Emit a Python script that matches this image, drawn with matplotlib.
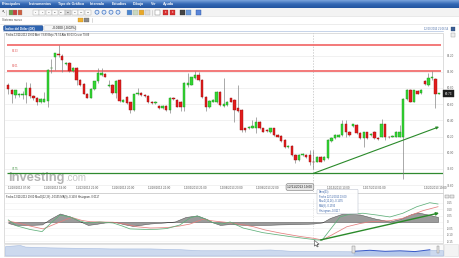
import matplotlib
matplotlib.use("Agg")
import matplotlib.pyplot as plt
import numpy as np
from matplotlib.patches import Rectangle, FancyBboxPatch, Polygon, Circle
from matplotlib.transforms import blended_transform_factory
from matplotlib.colors import LinearSegmentedColormap

plt.rcParams['font.family'] = ['Liberation Sans', 'DejaVu Sans']

W, H = 460, 258

# ---------------- data ----------------
opens = [80.84, 80.78, 80.71, 80.71, 80.71, 80.71, 80.80, 80.70, 80.68, 80.62,
         80.63, 80.64, 81.04, 81.18, 81.22, 81.20, 81.09, 81.11, 81.01, 81.05,
         80.90, 80.85, 80.73, 80.68, 80.79, 80.88, 80.96, 80.97, 80.82, 80.84,
         80.74, 80.90, 80.63, 80.69, 80.62, 80.53, 80.72, 80.74, 80.71, 80.70,
         80.63, 80.61, 80.58, 80.55, 80.58, 80.53, 80.68, 80.65, 80.63, 80.57,
         80.84, 80.84, 80.92, 80.96, 80.90, 80.69, 80.56, 80.63, 80.62, 80.75,
         80.58, 80.59, 80.67, 80.65, 80.55, 80.53, 80.30, 80.30, 80.31, 80.30,
         80.38, 80.30, 80.28, 80.25, 80.30, 80.22, 80.21, 80.16, 80.07, 80.08,
         79.97, 79.91, 79.97, 79.97, 79.97, 79.89, 79.89, 79.95, 79.91, 79.93,
         80.14, 80.18, 80.20, 80.22, 80.36, 80.26, 80.33, 80.34, 80.24, 80.18,
         80.25, 80.22, 80.26, 80.18, 80.20, 80.35, 80.20, 80.20, 80.20, 80.20,
         80.20, 80.66, 80.78, 80.63, 80.76, 80.74, 80.89, 80.83, 80.92, 80.91,
         80.73]
closes = [80.79, 80.72, 80.77, 80.73, 80.73, 80.80, 80.70, 80.67, 80.62, 80.66,
          80.66, 81.02, 81.05, 81.23, 81.21, 81.15, 81.11, 81.01, 81.05, 80.90,
          80.84, 80.73, 80.68, 80.79, 80.88, 80.98, 80.98, 80.94, 80.84, 80.74,
          80.89, 80.64, 80.65, 80.61, 80.53, 80.72, 80.74, 80.71, 80.70, 80.62,
          80.61, 80.63, 80.55, 80.58, 80.53, 80.68, 80.66, 80.57, 80.57, 80.86,
          80.86, 80.93, 80.96, 80.90, 80.69, 80.56, 80.64, 80.65, 80.75, 80.59,
          80.60, 80.63, 80.63, 80.53, 80.52, 80.28, 80.28, 80.32, 80.33, 80.38,
          80.30, 80.26, 80.27, 80.30, 80.22, 80.20, 80.14, 80.07, 80.08, 79.97,
          79.91, 79.97, 79.99, 79.95, 79.89, 79.88, 79.95, 79.89, 79.95, 80.16,
          80.18, 80.22, 80.22, 80.36, 80.26, 80.22, 80.35, 80.24, 80.18, 80.25,
          80.18, 80.23, 80.18, 80.17, 80.35, 80.20, 80.19, 80.21, 80.26, 80.26,
          80.66, 80.78, 80.63, 80.77, 80.73, 80.78, 80.85, 80.92, 80.93, 80.73,
          80.73]
highs = [80.86, 80.79, 80.78, 80.74, 80.76, 80.87, 80.86, 80.71, 80.69, 80.68,
         80.75, 81.03, 81.16, 81.23, 81.33, 81.22, 81.12, 81.12, 81.06, 81.06,
         80.91, 80.86, 80.74, 80.80, 80.89, 81.04, 81.05, 80.98, 80.90, 80.85,
         80.90, 80.91, 80.66, 80.70, 80.63, 80.73, 80.80, 80.75, 80.72, 80.71,
         80.64, 80.64, 80.59, 80.59, 80.59, 80.69, 80.69, 80.66, 80.64, 80.87,
         80.98, 80.94, 81.01, 81.00, 80.91, 80.70, 80.65, 80.66, 80.76, 80.76,
         80.92, 80.64, 80.68, 80.66, 80.83, 80.54, 80.31, 80.33, 80.40, 80.44,
         80.39, 80.31, 80.29, 80.31, 80.31, 80.23, 80.22, 80.17, 80.09, 80.09,
         79.98, 79.98, 80.00, 79.98, 80.03, 80.03, 79.96, 79.96, 79.96, 80.17,
         80.19, 80.23, 80.23, 80.40, 80.40, 80.27, 80.36, 80.35, 80.25, 80.26,
         80.26, 80.24, 80.27, 80.19, 80.42, 80.36, 80.21, 80.22, 80.27, 80.34,
         80.67, 80.79, 80.79, 80.78, 80.77, 80.79, 80.90, 80.98, 81.01, 80.92,
         80.74]
lows = [80.73, 80.61, 80.67, 80.69, 80.66, 80.61, 80.67, 80.65, 80.59, 80.61,
        80.62, 80.57, 80.98, 81.02, 81.18, 81.00, 81.08, 81.00, 81.00, 80.83,
        80.82, 80.72, 80.67, 80.67, 80.78, 80.86, 80.95, 80.93, 80.81, 80.73,
        80.67, 80.63, 80.62, 80.60, 80.49, 80.52, 80.71, 80.70, 80.69, 80.61,
        80.60, 80.60, 80.54, 80.54, 80.52, 80.49, 80.65, 80.56, 80.51, 80.51,
        80.81, 80.83, 80.91, 80.89, 80.68, 80.51, 80.55, 80.62, 80.61, 80.58,
        80.57, 80.58, 80.62, 80.38, 80.50, 80.26, 80.26, 80.29, 80.30, 80.24,
        80.29, 80.25, 80.26, 80.24, 80.21, 80.19, 80.13, 80.06, 80.06, 79.96,
        79.87, 79.90, 79.96, 79.94, 79.85, 79.80, 79.88, 79.88, 79.90, 79.92,
        80.13, 80.17, 80.19, 80.21, 80.20, 80.21, 80.32, 80.23, 80.17, 80.07,
        80.17, 80.21, 80.17, 80.16, 80.19, 80.16, 80.18, 80.19, 80.19, 80.19,
        79.68, 80.65, 80.62, 80.62, 80.72, 80.73, 80.84, 80.82, 80.90, 80.55,
        80.72]

resistance_levels = [81.33, 81.01]
resistance_labels = ["81.33", "81.01"]
support_levels = [79.75]
support_labels = ["79.75"]
trend_start = (85, 79.745)
trend_end = (120, 80.32)
price_ticks = [79.60, 79.80, 80.00, 80.20, 80.40, 80.60, 80.80, 81.00, 81.20]
last_price = 80.73

date_tick_idx = [3, 13, 22, 32, 42, 52, 62, 72, 92, 102, 119]
date_tick_labels = ["11/18/2013 07:00", "11/20/2013 19:00", "11/22/2013 21:00",
                    "11/26/2013 20:00", "11/28/2013 22:00", "12/02/2013 21:00",
                    "12/04/2013 23:00", "12/09/2013 22:00", "12/13/2013 13:00",
                    "12/17/2013 01:00", "12/20/2013 19:00"]
cursor_idx = 85
cursor_label = "12/11/2013 19:00"

macd_idx = [0, 2.4, 6.0, 9.4, 11.6, 14.4, 17.2, 20.0, 21.9, 25.5, 29.2, 31.7, 33.9,
            38.1, 41.4, 44.2, 47.8, 50.6, 52.6, 54.8, 57.0, 59.5, 61.8, 65.4, 70.9,
            78.5, 82.6, 86.0, 87.4, 89.6, 92.4, 95.2, 98.8, 102.7, 106.3, 109.9,
            113.8, 117.4, 119.7]
macd_vals = [0.016, -0.031, -0.058, -0.075, -0.016, 0.054, 0.039, 0.008, -0.008,
             0.000, -0.008, -0.031, -0.054, -0.058, -0.057, -0.051, -0.023, 0.031,
             0.047, 0.023, -0.005, -0.016, 0.000, -0.047, -0.083, -0.114, -0.128,
             -0.140, -0.142, -0.062, 0.039, 0.062, 0.068, 0.054, 0.039, 0.068,
             0.119, 0.150, 0.140]
signal_idx = [0, 3.3, 6.6, 9.7, 13.0, 15.8, 17.7, 20.5, 22.8, 25.5, 29.2, 32.5,
              35.8, 39.5, 44.2, 47.8, 50.6, 54.2, 57.0, 60.4, 65.7, 68.3, 71.5,
              75.7, 81.3, 85.0, 87.4, 89.6, 94.3, 98.0, 100.8, 106.3, 109.9,
              115.5, 119.7]
signal_vals = [0.008, -0.012, -0.035, -0.054, -0.016, 0.016, 0.035, 0.012, 0.002,
               0.000, -0.002, -0.016, -0.037, -0.047, -0.044, -0.031, -0.016,
               0.021, 0.008, -0.002, -0.023, -0.037, -0.062, -0.086, -0.113,
               -0.127, -0.140, -0.109, -0.037, -0.012, 0.002, 0.010, 0.029, 0.088,
               0.119]
hist_idx = [0, 1.9, 6.0, 9.4, 11.6, 14.4, 17.2, 20.5, 22.2, 24.2, 26.9, 29.7, 32.5,
            34.7, 36.7, 39.5, 43.6, 46.4, 49.4, 52.6, 55.3, 57.0, 59.0, 61.8, 66.1,
            71.5, 75.7, 81.3, 85.0, 87.4, 89.6, 93.2, 98.0, 102.1, 106.3, 109.1,
            112.3, 114.1, 116.9, 119.7]
hist_vals = [-0.008, -0.023, -0.023, -0.019, 0.023, 0.066, 0.043, -0.002, -0.023,
             -0.016, -0.004, 0.000, -0.019, -0.031, -0.023, -0.012, -0.004, 0.004,
             0.039, 0.051, 0.023, -0.004, -0.023, -0.016, -0.023, -0.023, -0.019,
             -0.016, -0.012, -0.004, 0.031, 0.066, 0.058, 0.027, 0.004, 0.023,
             0.062, 0.074, 0.058, 0.039]
macd_ticks = [0.15, 0.10, 0.05, 0.0, -0.05, -0.10, -0.15]
macd_tick_labels = ["0.15", "0.10", "0.05", "0", "-0.05", "-0.10", "-0.15"]
macd_trend_start = (87, -0.140)
macd_trend_end = (120, 0.070)

nav_x = [0, 3.4, 4.6, 10.3, 17.8, 24.0, 33.1, 40.0, 44.5, 51.4, 60.5, 65.1, 70.3,
         79.5, 83.3, 86.8, 90.2, 93.6, 97.0, 100]
nav_vals = [82.1, 82.5, 81.9, 81.6, 81.4, 81.2, 81.2, 80.9, 80.5, 80.5, 80.8, 80.3,
            80.2, 80.1, 80.5, 80.1, 80.3, 80.0, 80.7, 80.5]
nav_window = (79.5, 98.9)

menu_items = ["Principales", "Instrumentos", "Tipo de Gráfico", "Intervalo",
              "Estudios", "Dibujo", "Ver", "Ayuda"]
interval_buttons = ["1", "5", "15", "30", "1H", "5H", "D", "W", "M"]

title_tab = "Índice del Dólar (DX)"
change_text = "-0.0200 (-0.02%)"
info_line = "Fecha 12/11/2013 19:00 Abrir 79.89 Bajo 79.74 Alto 80.03 Cerrar 79.89"
macd_info = "Fecha 12/11/2013 19:00 MacD(12,26) -0.1555 MA(9) -0.1593 Histogram -0.0117"
tooltip_lines = ["Barra(33)", "Fecha 12/11/2013 19:00", "MacD(12,26) -0.1555",
                 "MA(9) -0.1593", "Histogram -0.0117"]
timestamp = "12/20/2013 21:06:54"

# ---------------- figure ----------------
fig = plt.figure(figsize=(W / 100, H / 100), dpi=100)
fig.patch.set_facecolor('white')


def rect(x0, y0, x1, y1):
    return [x0 / W, 1 - y1 / H, (x1 - x0) / W, (y1 - y0) / H]


bg = fig.add_axes([0, 0, 1, 1], zorder=0)
bg.axis('off')

# menu bar
grad = np.linspace(0, 1, 30).reshape(-1, 1)
cm = LinearSegmentedColormap.from_list('m', ['#7aa3dc', '#3368b4', '#2355a0'])
bg.imshow(grad, extent=(0, W, 8, 0), cmap=cm, aspect='auto', zorder=1)
menu_x = [2, 29, 58, 90, 112, 133, 151, 163]
for mx_, item in zip(menu_x, menu_items):
    bg.text(mx_, 4.2, item, fontsize=2.6, color='white', fontweight='bold',
            va='center', ha='left', zorder=2)

# toolbar
bg.add_patch(Rectangle((0, 8), W, 8.3, fc='#f3f3f3', ec='none', zorder=1))
bg.plot([0, W], [16.3, 16.3], color='#d8d8d8', lw=0.4, zorder=2)
bg.text(3, 12.3, "↖", fontsize=3, va='center', ha='center', color='#222',
        family=['DejaVu Sans'], zorder=3)
bg.plot([6.5, 6.5], [10, 14.8], color='#bbb', lw=0.4, zorder=3)
for x0, col in [(9, '#6aa04a'), (13.5, '#c84040'), (18, '#d06040')]:
    bg.add_patch(Rectangle((x0, 10), 3.6, 4.6, fc=col, ec='#888', lw=0.2, zorder=3))
for i, lab in enumerate(interval_buttons):
    x0 = 33 + 6.5 * i
    fc = '#d8d8d8' if lab == "5H" else '#fbfbfb'
    bg.add_patch(Rectangle((x0, 9.8), 5.6, 5.0, fc=fc, ec='#a8a8a8', lw=0.3, zorder=3))
    bg.text(x0 + 2.8, 12.4, lab, fontsize=1.7, ha='center', va='center',
            color='#333', zorder=4)
for i in range(4):
    cx = 97 + 7 * i
    bg.add_patch(Circle((cx, 12.2), 2.0, fc='#dfe9f8', ec='#3f74c4', lw=0.5, zorder=3))
for x0, col in [(127, '#4a86d0'), (133, '#c8d8c0'), (139, '#e8a828'), (145, '#dddddd')]:
    bg.add_patch(Rectangle((x0, 10), 4.6, 4.6, fc=col, ec='#999', lw=0.2, zorder=3))
bg.plot([152.5, 152.5], [10, 14.8], color='#bbb', lw=0.4, zorder=3)
bg.add_patch(Rectangle((155, 10), 4.6, 4.6, fc='white', ec='#777', lw=0.3, zorder=3))
for x0 in [163, 170]:
    bg.add_patch(Rectangle((x0, 10), 4.6, 4.6, fc='#d83030', ec='#992020', lw=0.2, zorder=3))
    bg.text(x0 + 2.3, 12.3, "x", fontsize=2, color='white', ha='center', va='center', zorder=4)
bg.add_patch(Rectangle((180, 10), 4.6, 4.6, fc='#444', ec='#222', lw=0.2, zorder=3))
bg.add_patch(Rectangle((186, 10), 4.6, 4.6, fc='#6d9ad8', ec='#3a66a8', lw=0.2, zorder=3))
bg.add_patch(Rectangle((196, 10), 4.6, 4.6, fc='#5b86d8', ec='#2c55a0', lw=0.3, zorder=3))

# system row
bg.plot([0, W], [23.6, 23.6], color='#dddddd', lw=0.4, zorder=2)
bg.text(2, 20, "Sistema nuevo", fontsize=2.2, color='#555', va='center', zorder=3)
bg.add_patch(Rectangle((78.5, 17.5), 4.8, 4.8, fc='#f0b030', ec='#b07a10', lw=0.2, zorder=3))
bg.add_patch(Rectangle((84.5, 17.5), 4.8, 4.8, fc='#8a8a8a', ec='#555', lw=0.2, zorder=3))
bg.plot([92, 92], [17.5, 22.3], color='#bbb', lw=0.4, zorder=3)

# tabs
bg.add_patch(FancyBboxPatch((3.5, 25.6), 39.5, 5.2, boxstyle='round,pad=0,rounding_size=1.2',
                            fc='#2d63b0', ec='#1f4a8a', lw=0.3, zorder=3))
bg.text(5.5, 28.3, title_tab, fontsize=2.2, color='white', fontweight='bold',
        va='center', zorder=4)
bg.add_patch(FancyBboxPatch((44, 25.6), 32, 5.2, boxstyle='round,pad=0,rounding_size=1.2',
                            fc='#f6f6f6', ec='#c8c8c8', lw=0.3, zorder=3))
bg.text(52, 28.3, change_text, fontsize=2.3, color='#111', va='center', zorder=4)
bg.plot([3, 443], [31, 31], color='#9bb3d8', lw=0.4, zorder=2)
bg.text(448, 29.2, timestamp, fontsize=1.9, color='#4b6ea8', ha='right', va='center', zorder=3)
bg.add_patch(Rectangle((451.5, 27.2), 3.8, 3.8, fc='#3c5f95', ec='#23406e', lw=0.2, zorder=3))

# main panel frame
bg.add_patch(Rectangle((4.5, 32.5), 438.5, 160, fc='none', ec='#cfcfcf', lw=0.5, zorder=2))
bg.add_patch(Rectangle((451.5, 33.4), 3.6, 3.2, fc='#eeeeee', ec='#999', lw=0.3, zorder=3))
bg.text(6, 34.9, info_line, fontsize=1.9, color='#333', va='center', zorder=3)

# watermark
bg.text(8, 181.3, "Investing", fontsize=9.3, fontweight='bold', color='#b4b4b4',
        va='baseline', ha='left', zorder=2)
bg.text(65.5, 181.3, ".com", fontsize=7.0, color='#c6c6c6', va='baseline', ha='left', zorder=2)

# MACD panel frame
bg.add_patch(Rectangle((4.5, 193.2), 438.5, 49.3, fc='none', ec='#cfcfcf', lw=0.5, zorder=2))
bg.text(6, 197, macd_info, fontsize=1.9, color='#333', va='center', zorder=3)
for x0 in [445.5, 450.5]:
    bg.add_patch(Rectangle((x0, 194.5), 3.4, 3.2, fc='#e6e6e6', ec='#888', lw=0.3, zorder=3))

# navigator frame
bg.add_patch(Rectangle((4.5, 243.5), 438.5, 12.2, fc='#fafafa', ec='#d0d0d0', lw=0.4, zorder=1))
bg.add_patch(Rectangle((444.5, 244), 13.5, 11.5, fc='#f3f3f3', ec='#dddddd', lw=0.4, zorder=1))

bg.set_xlim(0, W)
bg.set_ylim(H, 0)

# ---------------- main candlestick axes ----------------
ax = fig.add_axes(rect(5, 33, 443, 192), zorder=2)
ax.patch.set_alpha(0)
o = np.array(opens)
c = np.array(closes)
hi = np.array(highs)
lo = np.array(lows)
idx = np.arange(len(o))
up = c >= o
ax.vlines(idx, lo, hi, color='#7a7a7a', lw=0.45, zorder=3)
bottoms = np.minimum(o, c)
heights = np.maximum(np.abs(c - o), 0.008)
ax.bar(idx[up], heights[up], bottom=bottoms[up], width=0.66, color='#33d633',
       edgecolor='#1c941c', linewidth=0.3, zorder=4)
ax.bar(idx[~up], heights[~up], bottom=bottoms[~up], width=0.66, color='#e21c1c',
       edgecolor='#9a1010', linewidth=0.3, zorder=4)

for lvl, lab, off in zip(resistance_levels, resistance_labels, [-3.0, 2.0]):
    ax.hlines(lvl, -0.4, 120.5, color='#f37474', lw=1.35, zorder=2)
    ax.annotate(lab, (1.0, lvl), xytext=(0, off), textcoords='offset points',
                fontsize=1.9, color='#e05050', va='top' if off < 0 else 'bottom',
                ha='left')
for lvl, lab in zip(support_levels, support_labels):
    ax.hlines(lvl, -0.4, 121.1, color='#2f8a2f', lw=0.9, zorder=2)
    ax.annotate(lab, (1.0, lvl), xytext=(0, 1.6), textcoords='offset points',
                fontsize=1.9, color='#2f8a2f', va='bottom', ha='left')

ax.annotate('', xy=trend_end, xytext=trend_start,
            arrowprops=dict(arrowstyle='-|>', color='#2a8a2a', lw=0.8,
                            mutation_scale=3.5, shrinkA=0, shrinkB=0), zorder=5)
ax.axvline(cursor_idx, color='#bdbdbd', lw=0.5, ls=(0, (2, 2)), zorder=1)

ax.set_xlim(-0.92, 121.09)
ax.set_ylim(79.515, 81.478)
ax.yaxis.tick_right()
ax.set_yticks(price_ticks)
ax.set_yticklabels([f"{t:.2f}" for t in price_ticks])
ax.tick_params(axis='y', length=0, pad=2.5, labelsize=2.1, labelcolor='#666')
ax.grid(axis='y', color='#ececec', lw=0.5)
ax.set_axisbelow(True)
ax.set_xticks(date_tick_idx)
ax.set_xticklabels(date_tick_labels)
ax.tick_params(axis='x', length=0, pad=-4.4, labelsize=2.1, labelcolor='#555')
for s in ax.spines.values():
    s.set_visible(False)

tr = blended_transform_factory(ax.transData, ax.transAxes)
ax.text(cursor_idx - 0.3, 0.031, cursor_label, transform=tr, ha='right', va='center',
        fontsize=2.3, color='#222', zorder=6,
        bbox=dict(boxstyle='round,pad=0.45,rounding_size=0.6', fc='#e6e6e6', ec='#777', lw=0.4))
trp = blended_transform_factory(ax.transAxes, ax.transData)
ax.text(1.004, last_price, f"{last_price:.2f}", transform=trp, ha='left', va='center',
        fontsize=2.2, color='white', zorder=6,
        bbox=dict(boxstyle='square,pad=0.45', fc='#1e1e1e', ec='#1e1e1e', lw=0.3))

# ---------------- MACD axes ----------------
mx = fig.add_axes(rect(5, 199, 443, 242), zorder=2)
mx.patch.set_alpha(0)
mx.fill_between(hist_idx, 0, hist_vals, color='#9b9b9b', edgecolor='#4d4d4d', lw=0.35, zorder=2)
mx.plot(signal_idx, signal_vals, color='#e47e7e', lw=0.55, zorder=3)
mx.plot(macd_idx, macd_vals, color='#5fb07a', lw=0.55, zorder=3)
mx.annotate('', xy=macd_trend_end, xytext=macd_trend_start,
            arrowprops=dict(arrowstyle='-|>', color='#2a8a2a', lw=1.0,
                            mutation_scale=4, shrinkA=0, shrinkB=0), zorder=5)
mx.axvline(cursor_idx, color='#cfcfcf', lw=0.4, ls=(0, (2, 2)), zorder=1)
mx.set_xlim(-0.92, 121.09)
mx.set_ylim(-0.156, 0.179)
mx.yaxis.tick_right()
mx.set_yticks(macd_ticks)
mx.set_yticklabels(macd_tick_labels)
mx.tick_params(axis='y', length=0, pad=2.5, labelsize=2.0, labelcolor='#666')
mx.set_xticks([])
mx.grid(axis='y', color='#f0f0f0', lw=0.4)
mx.set_axisbelow(True)
for s in mx.spines.values():
    s.set_visible(False)

# ---------------- navigator ----------------
nv = fig.add_axes(rect(5, 244, 443, 255.5), zorder=2)
nv.patch.set_alpha(0)
nv.fill_between(nav_x, 78.5, nav_vals, color='#ccd9ee', edgecolor='#a6bbe0', lw=0.4)
sel = [(x, v) for x, v in zip(nav_x, nav_vals) if nav_window[0] <= x <= nav_window[1]]
nv.fill_between([p[0] for p in sel], 78.5, [p[1] for p in sel], color='#b4c8ea', lw=0)
nv.plot([p[0] for p in sel], [p[1] for p in sel], color='#3557c8', lw=0.7)
trn = blended_transform_factory(nv.transData, nv.transAxes)
for wx in nav_window:
    nv.add_patch(Rectangle((wx - 0.3, 0.2), 0.6, 0.6, transform=trn, fc='#e4e4e4',
                           ec='#808080', lw=0.3, zorder=4))
nv.set_xlim(0, 100)
nv.set_ylim(78.5, 82.9)
nv.axis('off')

# ---------------- overlay (tooltip + cursor) ----------------
top = fig.add_axes([0, 0, 1, 1], zorder=10)
top.patch.set_alpha(0)
top.axis('off')
top.add_patch(FancyBboxPatch((317, 189.3), 41, 24.5, boxstyle='round,pad=0,rounding_size=1',
                             fc='white', ec='#b8bfcc', lw=0.4, alpha=0.93))
for i, line in enumerate(tooltip_lines):
    top.text(319, 191.9 + 4.7 * i, line, fontsize=1.85, color='#3a64a8', va='center')
top.add_patch(Polygon([(314.5, 240.3), (314.5, 246.2), (316, 244.8), (317.2, 247),
                       (318.2, 246.5), (317.1, 244.3), (319, 244.2)], closed=True,
                      fc='white', ec='black', lw=0.3))
top.set_xlim(0, W)
top.set_ylim(H, 0)

fig.savefig('out.png', dpi=100, facecolor='white')
